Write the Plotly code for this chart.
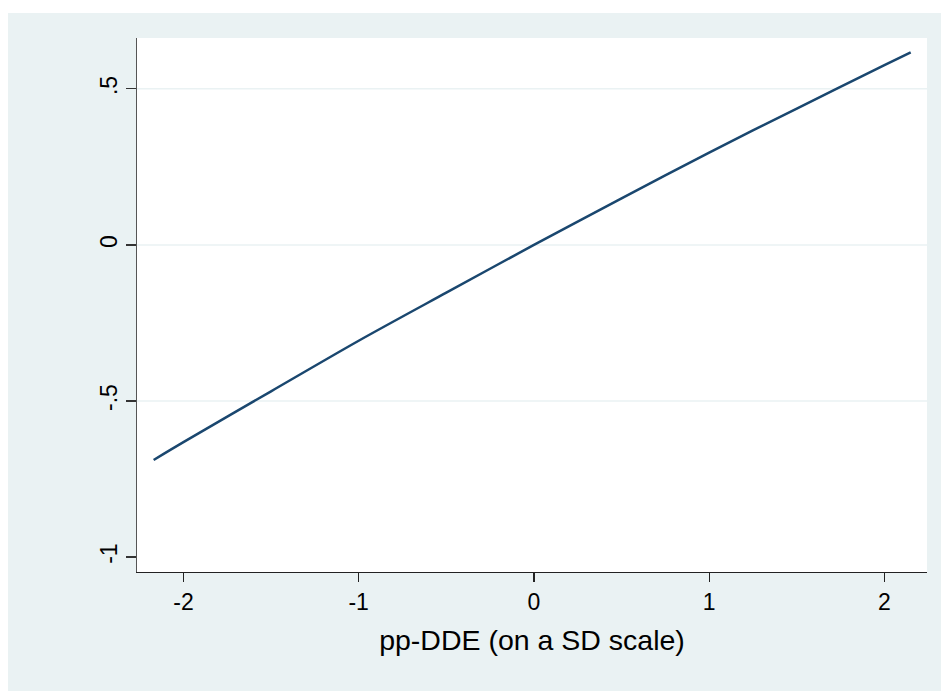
import plotly.graph_objects as go

# Data
x_vals = [-2.17, -2.0, -1.5, -1.0, -0.5, 0.0, 0.5, 1.0, 1.5, 2.0, 2.15]
y_vals = [-0.689, -0.632, -0.469, -0.307, -0.153, 0.0, 0.149, 0.296, 0.437, 0.576, 0.617]

x_ticks = [-2, -1, 0, 1, 2]
x_tick_labels = ["-2", "-1", "0", "1", "2"]
y_ticks = [-1, -0.5, 0, 0.5]
y_tick_labels = ["-1", "-.5", "0", ".5"]
y_grid = [-0.5, 0, 0.5]

x_title = "pp-DDE (on a SD scale)"

W, H = 941, 691
L, R, T, B = 137, 14, 38, 119
pw, ph = W - L - R, H - T - B
TOP_WHITE, LEFT_WHITE = 13, 8

BG = "#EAF2F3"
FONT = "Liberation Sans, Arial, sans-serif"

fig = go.Figure()
fig.add_trace(go.Scatter(
    x=x_vals, y=y_vals, mode="lines",
    line=dict(color="#1a476f", width=2.5, shape="spline", smoothing=0.8),
    hoverinfo="skip", showlegend=False,
))

shapes = []
for g in y_grid:
    shapes.append(dict(type="line", xref="paper", yref="y", x0=0, x1=1, y0=g, y1=g,
                       line=dict(color=BG, width=1.5), layer="below"))
# white strips at the top and left of the image
shapes.append(dict(type="rect", xref="paper", yref="paper",
                   x0=-L / pw - 0.01, x1=(W - L) / pw + 0.01,
                   y0=(H - TOP_WHITE - B) / ph, y1=(H - B) / ph + 0.01,
                   fillcolor="white", line=dict(width=0), layer="below"))
shapes.append(dict(type="rect", xref="paper", yref="paper",
                   x0=-L / pw - 0.01, x1=(LEFT_WHITE - L) / pw,
                   y0=-B / ph - 0.01, y1=(H - B) / ph + 0.01,
                   fillcolor="white", line=dict(width=0), layer="below"))

fig.update_layout(
    width=W, height=H,
    margin=dict(l=L, r=R, t=T, b=B, pad=0),
    paper_bgcolor=BG, plot_bgcolor="white",
    font=dict(family=FONT, color="black", size=23),
    shapes=shapes,
    xaxis=dict(
        range=[-2.265, 2.243], tickvals=x_ticks, ticktext=x_tick_labels,
        showgrid=False, zeroline=False,
        showline=True, linecolor="#222222", linewidth=1.2,
        ticks="outside", ticklen=9, tickwidth=1.2, tickcolor="#222222",
        tickfont=dict(size=23),
        title=dict(text=x_title, font=dict(size=28.5), standoff=16),
    ),
    yaxis=dict(
        range=[-1.048, 0.663], tickvals=y_ticks, ticktext=y_tick_labels,
        showgrid=False, zeroline=False,
        showline=True, linecolor="#555555", linewidth=1.2,
        ticks="outside", ticklen=10, tickwidth=1.2, tickcolor="#333333",
        tickfont=dict(size=23), tickangle=-90,
    ),
)

fig.write_html(
    "out.html",
    config={"displayModeBar": False, "staticPlot": True},
    post_script=(
        "document.body.style.margin='0';"
        "document.body.style.overflow='hidden';"
        "document.body.style.background='" + BG + "';"
        "document.documentElement.style.background='" + BG + "';"
    ),
)
